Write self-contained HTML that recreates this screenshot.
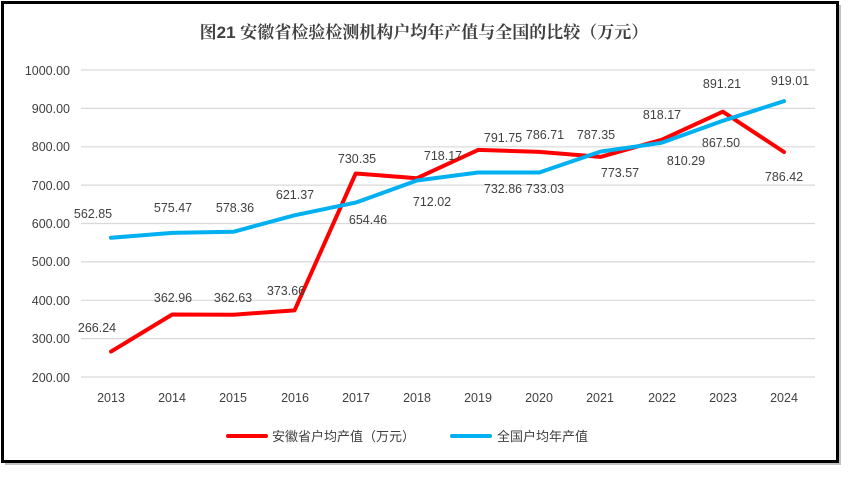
<!DOCTYPE html>
<html><head><meta charset="utf-8"><style>
body{margin:0;background:#fff;}
svg text{font-family:"Liberation Sans","Noto Sans CJK SC",sans-serif;fill:#404040;}
</style></head><body>
<svg width="848" height="474" xmlns="http://www.w3.org/2000/svg">
<rect x="5" y="5" width="836" height="460" fill="#999" opacity="0.6"/>
<rect x="2.5" y="2.5" width="835" height="459" fill="#fff" stroke="#000" stroke-width="3"/>
<text x="424" y="38" text-anchor="middle" font-size="17" font-weight="bold" style="fill:#404040;font-family:'Liberation Sans','Noto Serif CJK SC',serif">图21  安徽省检验检测机构户均年产值与全国的比较（万元）</text>
<g stroke="#d9d9d9" stroke-width="1.2">
<line x1="81" x2="815" y1="70" y2="70"/><line x1="81" x2="815" y1="108.4" y2="108.4"/>
<line x1="81" x2="815" y1="146.8" y2="146.8"/><line x1="81" x2="815" y1="185.1" y2="185.1"/>
<line x1="81" x2="815" y1="223.5" y2="223.5"/><line x1="81" x2="815" y1="261.9" y2="261.9"/>
<line x1="81" x2="815" y1="300.3" y2="300.3"/><line x1="81" x2="815" y1="338.6" y2="338.6"/>
<line x1="81" x2="815" y1="377" y2="377"/>
</g>
<g font-size="12.5" text-anchor="end">
<text x="70" y="75">1000.00</text><text x="70" y="113">900.00</text><text x="70" y="151">800.00</text>
<text x="70" y="190">700.00</text><text x="70" y="228">600.00</text><text x="70" y="266">500.00</text>
<text x="70" y="305">400.00</text><text x="70" y="343">300.00</text><text x="70" y="382">200.00</text>
</g>
<g font-size="12.5" text-anchor="middle">
<text x="111" y="402">2013</text><text x="172" y="402">2014</text><text x="233" y="402">2015</text>
<text x="295" y="402">2016</text><text x="356" y="402">2017</text><text x="417" y="402">2018</text>
<text x="478" y="402">2019</text><text x="539" y="402">2020</text><text x="600" y="402">2021</text>
<text x="662" y="402">2022</text><text x="723" y="402">2023</text><text x="784" y="402">2024</text>
</g>
<polyline fill="none" stroke="#ff0000" stroke-width="4" stroke-linejoin="round" stroke-linecap="round"
points="111,351.6 172.2,314.5 233.4,314.7 294.5,310.4 355.7,173.5 416.9,178.2 478.1,149.9 539.3,151.9 600.4,156.9 661.6,139.8 722.8,111.7 784,152"/>
<polyline fill="none" stroke="#00b0f0" stroke-width="4" stroke-linejoin="round" stroke-linecap="round"
points="111,237.8 172.2,232.9 233.4,231.8 294.5,215.3 355.7,202.6 416.9,180.5 478.1,172.5 539.3,172.5 600.4,151.6 661.6,142.8 722.8,120.8 784,101.1"/>
<g font-size="12.5" text-anchor="middle">
<text x="97" y="332">266.24</text><text x="173" y="302">362.96</text><text x="233" y="302">362.63</text>
<text x="286" y="295">373.66</text><text x="357" y="163">730.35</text><text x="443" y="160">718.17</text>
<text x="503" y="142">791.75</text><text x="545" y="139">786.71</text><text x="620" y="177">773.57</text>
<text x="662" y="119">818.17</text><text x="722" y="88">891.21</text><text x="784" y="181">786.42</text>
<text x="93" y="218">562.85</text><text x="173" y="212">575.47</text><text x="235" y="212">578.36</text>
<text x="295" y="199">621.37</text><text x="368" y="224">654.46</text><text x="432" y="206">712.02</text>
<text x="503" y="193">732.86</text><text x="545" y="193">733.03</text><text x="596" y="139">787.35</text>
<text x="686" y="165">810.29</text><text x="721" y="147">867.50</text><text x="790" y="85">919.01</text>
</g>
<line x1="228" x2="266" y1="436" y2="436" stroke="#ff0000" stroke-width="4" stroke-linecap="round"/>
<text x="272" y="441" font-size="13">安徽省户均产值（万元）</text>
<line x1="452" x2="490" y1="436" y2="436" stroke="#00b0f0" stroke-width="4" stroke-linecap="round"/>
<text x="497" y="441" font-size="13">全国户均年产值</text>
</svg>
</body></html>
